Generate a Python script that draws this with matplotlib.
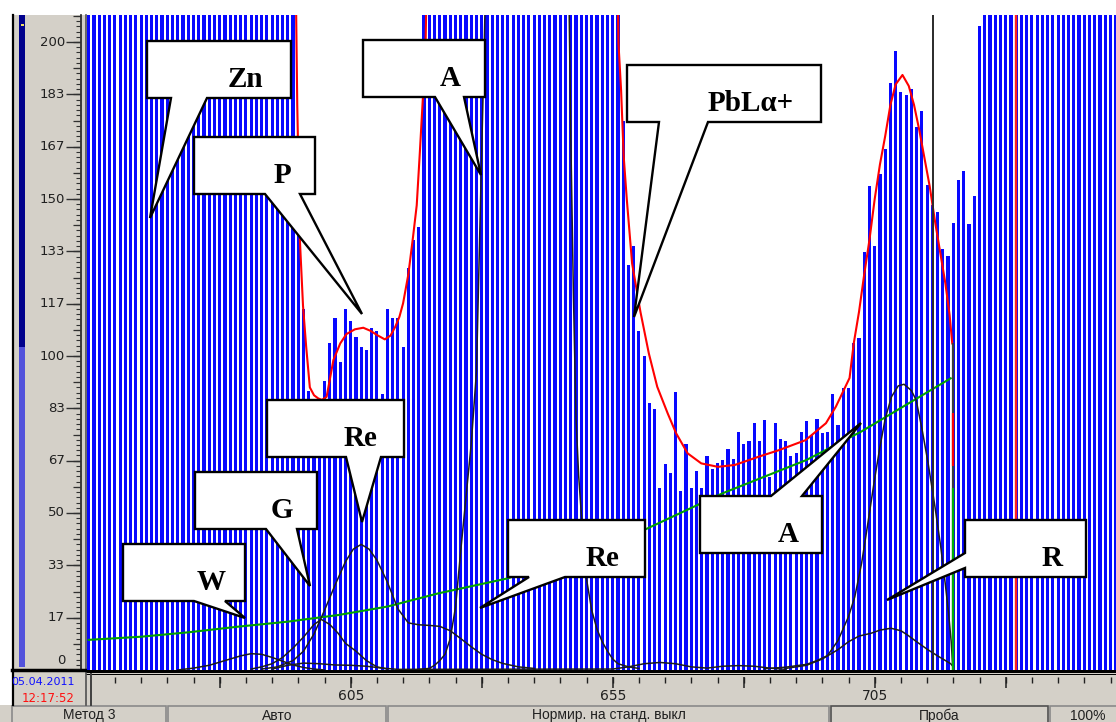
import numpy as np
import matplotlib
matplotlib.use('Agg')
import matplotlib.pyplot as plt
from matplotlib.patches import Rectangle, Polygon
from matplotlib import transforms

W, H = 1116, 722

# --- spectrum: counts per channel, 555 ... 751 (OFF = above the top of the scale)
OFF = 250
counts_left = [OFF] * 40                                   # 555-594
counts_p = [160, 115, 89, 82, 80, 92, 104, 112, 98, 115, 111, 106,
            103, 102, 109, 108, 88, 115, 112, 112, 103, 128, 137, 141]   # 595-618
counts_a = [OFF] * 37                                      # 619-655
counts_pb = [215, 175, 129, 135, 108, 100, 85, 83, 58, 65.6, 62.7, 88.6,
             57, 72, 58, 63.5, 58, 68, 64, 66, 67, 70.4, 67.2, 75.9,
             72, 73, 78.6, 72.8, 79.6, 61.6, 78.6, 73.6, 73, 68, 69, 75.9,
             79.4, 74.8, 79.8, 75.4, 75.9, 88, 78, 89.7, 89.7, 104, 105.6, 133,
             154, 135, 158, 166, 187, 197, 184, 183, 185, 173, 178, 154.5,
             148, 146, 134, 132, 142.5, 156, 159, 142, 151, 205]   # 656-725
counts_right = [OFF] * 26                                  # 726-751
counts = counts_left + counts_p + counts_a + counts_pb + counts_right
channels = np.arange(555, 555 + len(counts))

# fit curve (red), two visible pieces
fit1_ch = [594.3, 594.8, 595.3, 595.9, 596.5, 597.2, 598.0, 598.8, 599.5, 600.4,
           601.7, 603.0, 604.2, 605.8, 607.4, 608.8, 610.0, 611.5, 612.6, 613.5,
           614.3, 615.0, 616.0, 616.9, 617.6, 618.2, 618.8, 619.3, 619.8]
fit1_v = [250, 180, 137, 116, 103, 90, 87.5, 86.5, 86, 87,
          98.7, 104, 107, 108.5, 109, 108, 106.7, 105.3, 106.5, 109.3,
          112.5, 116.8, 126, 138, 148, 165, 183, 200, 250]
fit2_ch = [655.7, 656.1, 656.6, 657.1, 657.7, 658.7, 660.3, 661.9, 663.5, 665.5,
           667.1, 669.3, 671.9, 675.1, 678.3, 682.8, 686.7, 691.8, 695.7, 697.6,
           700.2, 701, 702, 703, 704, 705, 706, 707, 708, 709,
           710.3, 711.5, 712.5, 713.5, 714.5, 715.5, 716.5, 717.5, 718.5, 719.3, 719.8]
fit2_v = [250, 199.6, 184.7, 163.5, 149.7, 129.5, 114, 100.8, 90.2, 81.7,
          75.4, 69, 65.8, 64.7, 65.3, 67.9, 70, 73.2, 78.6, 83.9,
          93, 104, 114, 126, 137, 150, 161, 170, 180, 186.5,
          189.5, 186, 180, 172, 163, 154, 143, 133, 123, 113, 104]

# background (green)
bg_ch = [555, 565, 574, 583.5, 593, 602.6, 612, 621.7, 635, 645, 661, 676, 692, 702.4, 719.5]
bg_v = [9.6, 10.6, 12, 13.8, 15.4, 17.5, 20.2, 24.4, 29.2, 35, 44.6, 56.3, 66.9, 75.9, 92.9]

# element components (black)
w_ch = [572, 575, 578, 581, 584, 586, 588, 590, 592, 594, 596, 598, 600]
w_v = [0, 0.6, 1.5, 3, 4.5, 5.2, 5, 4, 2.8, 1.6, 0.8, 0.3, 0]
g_ch = [586, 588, 590, 592, 594, 596, 598, 599.4, 601, 602.6, 604, 606, 608, 610, 612]
g_v = [0.3, 1, 2, 4, 7, 10.5, 14.5, 16.1, 14.5, 11.7, 8.5, 6, 3, 1, 0.3]
re_ch = [588, 591, 594, 596, 598, 600, 602, 604, 605.5, 607, 608.5, 610, 612, 614,
         616, 618, 620, 622, 624, 626, 628, 630, 632, 634, 637, 640]
re_v = [0.3, 1, 3, 6, 11.5, 19, 27, 34.5, 38.5, 40, 38.5, 35, 28, 19.5,
        15, 14.4, 14.2, 13.9, 12.5, 10, 7.4, 5, 3.3, 2.1, 1, 0.5]
a1_ch = [618, 620, 621, 622, 623, 624, 625, 626, 627, 628, 629, 629.5, 630, 630.5, 631, 632,
         646, 647, 647.5, 648, 648.5, 649, 650, 651, 652, 653, 654, 655, 656, 658, 660]
a1_v = [0.2, 0.5, 1.5, 3, 5, 10, 20, 38, 55, 72, 95, 130, 165, 200, 240, 300,
        300, 170, 120, 80, 62, 50, 29, 19, 13, 9, 6, 3.5, 2, 1, 0.5]
low_ch = [590, 593, 596, 599, 602, 605, 608, 611, 614, 655, 658, 661, 664, 667, 670,
          673, 676, 679, 682, 685, 688]
low_v = [0.3, 1.5, 2.2, 2.0, 1.6, 1.5, 1.2, 0.6, 0.2, 0.3, 1, 2, 2.4, 2, 1,
         0.6, 1.2, 1.4, 1.2, 0.6, 0.2]
a2_ch = [684, 688, 692, 694, 696, 698, 700, 701.2, 702.5, 703.5, 705, 706, 707, 708.2,
         709.5, 710.6, 712, 712.9, 714, 715.2, 716.5, 717.6, 718.5, 719.1, 719.6, 719.9]
a2_v = [0.4, 0.9, 1.8, 3, 4.6, 9.4, 17, 23.3, 34, 44.6, 61, 71, 80, 87,
        90.5, 91, 89, 86, 77, 65.8, 52, 39.3, 27, 18, 9, 1]
r_ch = [688, 692, 695, 698, 700, 702, 704.3, 706, 708.1, 710, 711.3, 713, 715.2, 717, 718.3, 719.5, 720]
r_v = [0.5, 1.5, 3.5, 6.5, 9, 10.8, 11.7, 12.7, 13.3, 12.5, 11.1, 9, 6.4, 4.5, 3.2, 2, 1]

# axis texts
ytick_labels = ['0', '17', '33', '50', '67', '83', '100', '117', '133', '150', '167', '183', '200']
xtick_labels = ['605', '655', '705']
status_texts = ['Метод 3', 'Авто', 'Нормир. на станд. выкл', 'Проба', '100%']

GRAY = '#d4d0c8'
NARROW = ['Liberation Sans Narrow', 'DejaVu Sans']
SANS = ['Liberation Sans', 'DejaVu Sans']
SERIF = ['Liberation Serif', 'DejaVu Serif']

fig = plt.figure(figsize=(W / 100, H / 100), dpi=100)
fig.patch.set_facecolor('white')


def px_axes(x0, y0, x1, y1):
    a = fig.add_axes([x0 / W, 1 - y1 / H, (x1 - x0) / W, (y1 - y0) / H])
    a.patch.set_alpha(0)
    return a


# window chrome (pixel coordinates)
bg = px_axes(0, 0, W, H)
bg.set_xlim(0, W)
bg.set_ylim(H, 0)
bg.axis('off')
bg.add_patch(Rectangle((12, 15), 74, 690, color=GRAY, lw=0))
bg.add_patch(Rectangle((86, 670), W - 86, 35, color=GRAY, lw=0))
bg.add_patch(Rectangle((0, 705), W, 17, color=GRAY, lw=0))
bg.plot([12.5, 12.5], [15, 705], color='black', lw=1.6)
bg.add_patch(Rectangle((19, 15), 5.5, 332, color='#00008c', lw=0))
bg.add_patch(Rectangle((19, 347), 5.5, 320, color='#5252dc', lw=0))
bg.add_patch(Rectangle((21, 23.5), 3, 2.5, color='#f0e060', lw=0))
bg.plot([81, 81], [15, 670], color='#202020', lw=1.2)
bg.plot([86, 86], [15, 705], color='#505050', lw=1.2)
bg.plot([12, 86], [670, 670], color='black', lw=2.5)
bg.plot([91, 91], [674, 705], color='#404040', lw=1.4)
bg.add_patch(Rectangle((86, 670), W - 86, 2.5, color='black', lw=0))
bg.add_patch(Rectangle((86, 673.5), W - 86, 1.6, color='black', lw=0))
seg_edges = [(12, 166), (168, 386), (388, 829), (831, 1048), (1050, 1130)]
for (s0, s1), txt in zip(seg_edges, status_texts):
    ec = '#505050' if txt == 'Проба' else '#8a8a8a'
    bg.add_patch(Rectangle((s0, 706), s1 - s0, 18, fc=GRAY, ec=ec, lw=1.2))
    if txt.startswith('100'):
        bg.text(1070, 715.5, txt, ha='left', va='center', fontsize=10, family=SANS, color='#202020')
    else:
        bg.text((s0 + s1) / 2, 715.5, txt, ha='center', va='center', fontsize=10,
                family=SANS, color='#202020')
bg.text(43, 682, '05.04.2011', ha='center', va='center', fontsize=8, family=NARROW, color='#1010ff')
bg.text(48, 699, '12:17:52', ha='center', va='center', fontsize=8.5, family=NARROW, color='#ff1010')

# main spectrum area: 605 at x=350.7 px, 5.24 px per channel; 3.14 px per count
xlo = 605 + (87 - 350.7) / 5.24
xhi = 605 + (W - 350.7) / 5.24
ytop = (670 - 15) / 3.14

ax = px_axes(87, 15, W, 670)
ax.set_xlim(xlo, xhi)
ax.set_ylim(0, ytop)
ax.axis('off')
ax.bar(channels, counts, width=0.6, color='#0808ff', linewidth=0, zorder=1)
ax.plot(bg_ch, bg_v, color='#00a000', lw=1.5, zorder=3)
for cx, cy in [(w_ch, w_v), (g_ch, g_v), (re_ch, re_v), (a1_ch, a1_v),
               (low_ch, low_v), (a2_ch, a2_v), (r_ch, r_v)]:
    ax.plot(cx, cy, color='#1c1c1c', lw=1.1, zorder=4)
ax.plot(fit1_ch, fit1_v, color='#ff0000', lw=1.5, zorder=5)
ax.plot(fit2_ch, fit2_v, color='#ff0000', lw=1.5, zorder=5)
ax.axvline(716.1, color='#2a2a2a', lw=1.4, zorder=6)
ax.vlines(719.9, 0, 104, color='#3a3a3a', lw=1.6, zorder=6)
ax.vlines(719.9, 65, 82, color='#ff0000', lw=1.6, zorder=6)
ax.vlines(719.9, 0, 58, color='#00b000', lw=1.6, zorder=6)
ax.axvline(731.9, color='#ff2020', lw=1.7, zorder=6)

# left ruler
axl = px_axes(12, 15, 86, 670)
axl.set_xlim(12, 86)
axl.set_ylim(0, ytop)
axl.axis('off')
minor = np.arange(0, ytop, 200 / 120)
axl.hlines(minor, 75.5, 80, color='#303030', lw=0.8)
axl.hlines(minor[::5], 72.5, 80, color='#303030', lw=0.9)
major = np.arange(len(ytick_labels)) * 200 / 12
axl.hlines(major, 66, 80, color='#303030', lw=1.0)
for v, lab in zip(major, ytick_labels):
    tr = axl.transData
    if lab == '0':
        tr = transforms.offset_copy(axl.transData, fig=fig, x=0, y=10, units='dots')
    axl.text(65, v, lab, transform=tr, ha='right', va='center', fontsize=9.5,
             family=NARROW, color='#202020')

# bottom ruler
axb = px_axes(87, 670, W, 705)
axb.set_xlim(xlo, xhi)
axb.set_ylim(705, 670)
axb.axis('off')
axb.vlines(np.arange(560, 752, 5), 677, 683, color='#202020', lw=1.0)
axb.vlines(np.arange(580, 752, 25), 677, 688, color='#202020', lw=1.1)
for v, lab in zip([605, 655, 705], xtick_labels):
    axb.text(v, 696, lab, ha='center', va='center', fontsize=10, family=NARROW, color='#202020')

# callouts (pixel coordinates)
callouts = [
    dict(text='Zn', box=(147, 41, 291, 98), side='bottom', base=(171, 207), tip=(150, 218), tx=245),
    dict(text='P', box=(194, 137, 315, 194), side='bottom', base=(265, 300), tip=(362, 314), tx=282),
    dict(text='A', box=(363, 40, 485, 97), side='bottom', base=(435, 464), tip=(481, 175), tx=450),
    dict(text='PbLα+', box=(627, 65, 821, 122), side='bottom', base=(659, 708), tip=(634, 317), tx=751),
    dict(text='Re', box=(267, 400, 404, 457), side='bottom', base=(346, 381), tip=(362, 522), tx=361),
    dict(text='G', box=(195, 472, 317, 529), side='bottom', base=(266, 297), tip=(310, 586), tx=282),
    dict(text='W', box=(123, 544, 245, 601), side='bottom', base=(194, 225), tip=(245, 618), tx=211),
    dict(text='Re', box=(508, 520, 645, 577), side='bottom', base=(529, 565), tip=(480, 608), tx=602),
    dict(text='A', box=(700, 496, 822, 553), side='top', base=(771, 802), tip=(861, 423), tx=788),
    dict(text='R', box=(965, 520, 1086, 577), side='left', base=(553, 568), tip=(887, 600), tx=1052),
]

ov = px_axes(0, 0, W, H)
ov.set_xlim(0, W)
ov.set_ylim(H, 0)
ov.axis('off')
for c in callouts:
    x0, y0, x1, y1 = c['box']
    b1, b2 = c['base']
    tip = c['tip']
    if c['side'] == 'bottom':
        pts = [(x0, y0), (x1, y0), (x1, y1), (b2, y1), tip, (b1, y1), (x0, y1)]
    elif c['side'] == 'top':
        pts = [(x0, y0), (b1, y0), tip, (b2, y0), (x1, y0), (x1, y1), (x0, y1)]
    else:
        pts = [(x0, y0), (x1, y0), (x1, y1), (x0, y1), (x0, b2), tip, (x0, b1)]
    ov.add_patch(Polygon(pts, closed=True, fc='white', ec='black', lw=1.7, joinstyle='miter'))
    ov.text(c['tx'], y0 + 46, c['text'], ha='center', va='baseline', fontsize=21,
            fontweight='bold', family=SERIF, color='black')

fig.savefig('out.png', dpi=100, facecolor='white')
